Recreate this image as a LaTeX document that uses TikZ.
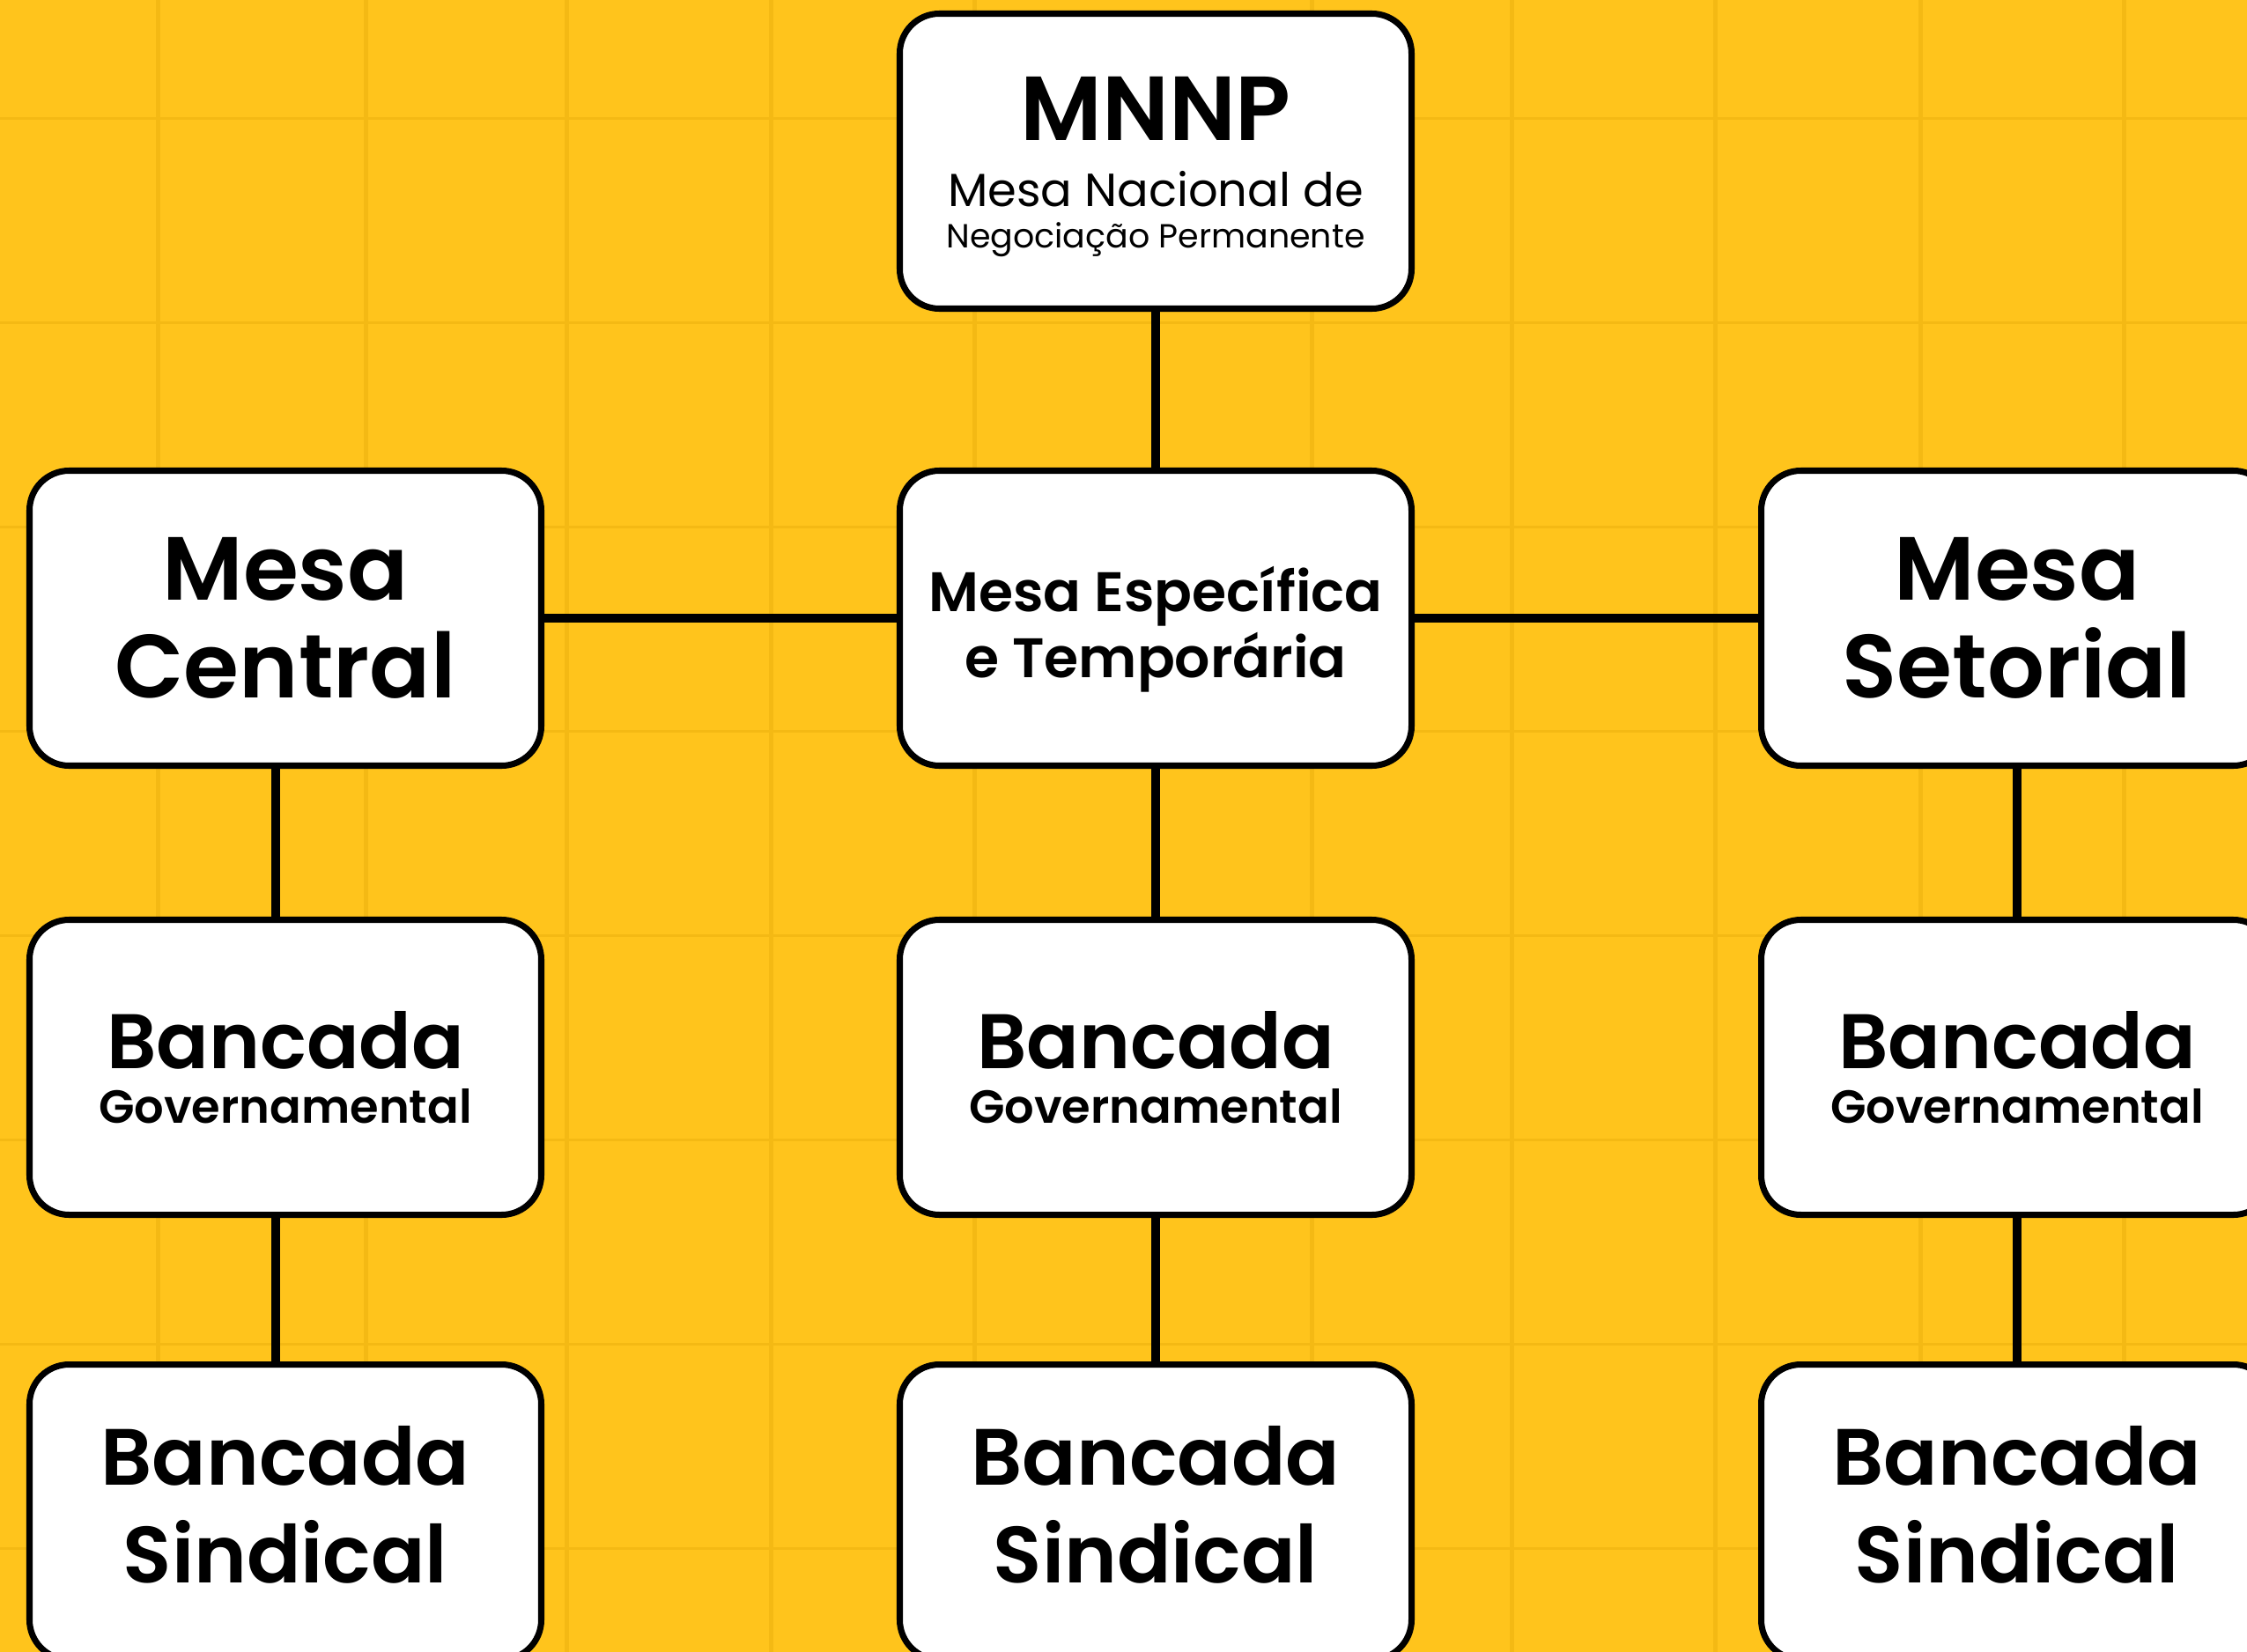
\documentclass[tikz,border=0pt]{standalone}
\usepackage{fontspec}
\setmainfont{Poppins}[BoldFont={Poppins SemiBold}]
\usepackage{tikz}
\usetikzlibrary{arrows,shapes}
\definecolor{fundo}{RGB}{255,196,28}
\definecolor{grade}{RGB}{244,185,20}

\begin{document}
\begin{tikzpicture}[-,node distance=5.1cm,line width=2.6pt,
	box/.style={draw=black,fill=white,line width=2pt,rounded corners=.45cm,minimum width=5.81cm,minimum height=3.35cm,align=center,inner sep=0pt},
	titulo/.style={font=\bfseries\fontsize{29}{31.6pt}\selectfont},
	bancada/.style={font=\bfseries\fontsize{25.8}{31.6pt}\selectfont},
	governo/.style={font=\bfseries\fontsize{15}{17.6pt}\selectfont}]
		\useasboundingbox (0,0) rectangle (25.51,-18.76);
		\fill[fundo] (0,0) rectangle (25.51,-18.76);
		\foreach \x in {1.79,4.15,6.43,8.75,11.06,14.89,17.16,19.47,21.80,24.11}
			\draw[grade,line width=.05cm] (\x,0) -- (\x,-18.76);
		\foreach \y in {1.34,3.66,5.98,8.30,10.62,12.94,15.26,17.58}
			\draw[grade,line width=.03cm] (0,-\y) -- (25.51,-\y);
		\node[box,font=\bfseries\fontsize{18}{21.6pt}\selectfont] (especifica) at (13.12,-7.02) {\rule{0pt}{21.8pt}Mesa Específica\\e Temporária};
		\node[box,font=\fontsize{10.8}{13.5pt}\selectfont] (mnnp) [above of=especifica,node distance=5.19cm] {{\bfseries\fontsize{29.4}{30pt}\selectfont\rule{0pt}{24.3pt}MNNP}\\[7.8pt]{\fontsize{15}{15pt}\selectfont Mesa Nacional de}\\Negociação Permanente};
		\node[box,titulo] (central) [left of=especifica,node distance=9.88cm] {Mesa\\Central};
		\node[box,titulo] (setorial) [right of=especifica,node distance=9.78cm] {Mesa\\Setorial};
		\node[box,governo] (centralgov) [below of=central] {{\fontsize{25}{25pt}\selectfont Bancada}\\Governamental};
		\node[box,governo] (especificagov) [below of=especifica] {{\fontsize{25}{25pt}\selectfont Bancada}\\Governamental};
		\node[box,governo] (setorialgov) [below of=setorial] {{\fontsize{25}{25pt}\selectfont Bancada}\\Governamental};
		\node[box,bancada] (centralsind) [below of=centralgov,node distance=5.05cm] {Bancada\\Sindical\rule[-5pt]{0pt}{0pt}};
		\node[box,bancada] (especificasind) [below of=especificagov,node distance=5.05cm] {Bancada\\Sindical\rule[-5pt]{0pt}{0pt}};
		\node[box,bancada] (setorialsind) [below of=setorialgov,node distance=5.05cm] {Bancada\\Sindical\rule[-5pt]{0pt}{0pt}};
		\path
		(mnnp) edge (especifica)
		(central) edge (especifica)
		(especifica) edge (setorial)
		([xshift=-.11cm]central.south) edge ([xshift=-.11cm]centralgov.north)
		([xshift=-.11cm]centralgov.south) edge ([xshift=-.11cm]centralsind.north)
		(especifica) edge (especificagov)
		(especificagov) edge (especificasind)
		(setorial) edge (setorialgov)
		(setorialgov) edge (setorialsind)
		;
	\end{tikzpicture}
\end{document}
